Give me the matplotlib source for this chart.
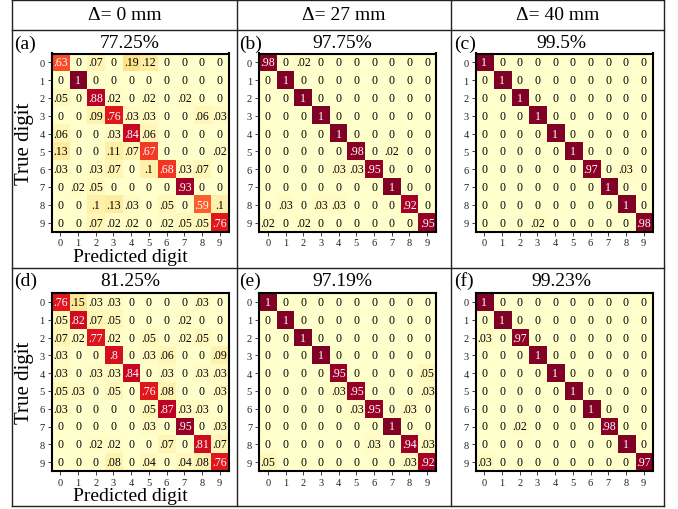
import matplotlib
matplotlib.use("Agg")
import matplotlib.pyplot as plt
import numpy as np
from matplotlib.lines import Line2D

plt.rcParams['font.family'] = ['Liberation Serif', 'DejaVu Serif']

digits = list(range(10))
headers = ["Δ= 0 mm", "Δ= 27 mm", "Δ= 40 mm"]
panel_letters = ["(a)", "(b)", "(c)", "(d)", "(e)", "(f)"]
accuracies = ["77.25%", "97.75%", "99.5%", "81.25%", "97.19%", "99.23%"]

cm_a = [
    [.63, 0, .07, 0, .19, .12, 0, 0, 0, 0],
    [0, 1, 0, 0, 0, 0, 0, 0, 0, 0],
    [.05, 0, .88, .02, 0, .02, 0, .02, 0, 0],
    [0, 0, .09, .76, .03, .03, 0, 0, .06, .03],
    [.06, 0, 0, .03, .84, .06, 0, 0, 0, 0],
    [.13, 0, 0, .11, .07, .67, 0, 0, 0, .02],
    [.03, 0, .03, .07, 0, .1, .68, .03, .07, 0],
    [0, .02, .05, 0, 0, 0, 0, .93, 0, 0],
    [0, 0, .1, .13, .03, 0, .05, 0, .59, .1],
    [0, 0, .07, .02, .02, 0, .02, .05, .05, .76],
]
cm_b = [
    [.98, 0, .02, 0, 0, 0, 0, 0, 0, 0],
    [0, 1, 0, 0, 0, 0, 0, 0, 0, 0],
    [0, 0, 1, 0, 0, 0, 0, 0, 0, 0],
    [0, 0, 0, 1, 0, 0, 0, 0, 0, 0],
    [0, 0, 0, 0, 1, 0, 0, 0, 0, 0],
    [0, 0, 0, 0, 0, .98, 0, .02, 0, 0],
    [0, 0, 0, 0, .03, .03, .95, 0, 0, 0],
    [0, 0, 0, 0, 0, 0, 0, 1, 0, 0],
    [0, .03, 0, .03, .03, 0, 0, 0, .92, 0],
    [.02, 0, .02, 0, 0, 0, 0, 0, 0, .95],
]
cm_c = [
    [1, 0, 0, 0, 0, 0, 0, 0, 0, 0],
    [0, 1, 0, 0, 0, 0, 0, 0, 0, 0],
    [0, 0, 1, 0, 0, 0, 0, 0, 0, 0],
    [0, 0, 0, 1, 0, 0, 0, 0, 0, 0],
    [0, 0, 0, 0, 1, 0, 0, 0, 0, 0],
    [0, 0, 0, 0, 0, 1, 0, 0, 0, 0],
    [0, 0, 0, 0, 0, 0, .97, 0, .03, 0],
    [0, 0, 0, 0, 0, 0, 0, 1, 0, 0],
    [0, 0, 0, 0, 0, 0, 0, 0, 1, 0],
    [0, 0, 0, .02, 0, 0, 0, 0, 0, .98],
]
cm_d = [
    [.76, .15, .03, .03, 0, 0, 0, 0, .03, 0],
    [.05, .82, .07, .05, 0, 0, 0, .02, 0, 0],
    [.07, .02, .77, .02, 0, .05, 0, .02, .05, 0],
    [.03, 0, 0, .8, 0, .03, .06, 0, 0, .09],
    [.03, 0, .03, .03, .84, 0, .03, 0, .03, .03],
    [.05, .03, 0, .05, 0, .76, .08, 0, 0, .03],
    [.03, 0, 0, 0, 0, .05, .87, .03, .03, 0],
    [0, 0, 0, 0, 0, .03, 0, .95, 0, .03],
    [0, 0, .02, .02, 0, 0, .07, 0, .81, .07],
    [0, 0, 0, .08, 0, .04, 0, .04, .08, .76],
]
cm_e = [
    [1, 0, 0, 0, 0, 0, 0, 0, 0, 0],
    [0, 1, 0, 0, 0, 0, 0, 0, 0, 0],
    [0, 0, 1, 0, 0, 0, 0, 0, 0, 0],
    [0, 0, 0, 1, 0, 0, 0, 0, 0, 0],
    [0, 0, 0, 0, .95, 0, 0, 0, 0, .05],
    [0, 0, 0, 0, .03, .95, 0, 0, 0, .03],
    [0, 0, 0, 0, 0, .03, .95, 0, .03, 0],
    [0, 0, 0, 0, 0, 0, 0, 1, 0, 0],
    [0, 0, 0, 0, 0, 0, .03, 0, .94, .03],
    [.05, 0, 0, 0, 0, 0, 0, 0, .03, .92],
]
cm_f = [
    [1, 0, 0, 0, 0, 0, 0, 0, 0, 0],
    [0, 1, 0, 0, 0, 0, 0, 0, 0, 0],
    [.03, 0, .97, 0, 0, 0, 0, 0, 0, 0],
    [0, 0, 0, 1, 0, 0, 0, 0, 0, 0],
    [0, 0, 0, 0, 1, 0, 0, 0, 0, 0],
    [0, 0, 0, 0, 0, 1, 0, 0, 0, 0],
    [0, 0, 0, 0, 0, 0, 1, 0, 0, 0],
    [0, 0, .02, 0, 0, 0, 0, .98, 0, 0],
    [0, 0, 0, 0, 0, 0, 0, 0, 1, 0],
    [.03, 0, 0, 0, 0, 0, 0, 0, 0, .97],
]
matrices = [cm_a, cm_b, cm_c, cm_d, cm_e, cm_f]

W, H = 678, 510
fig = plt.figure(figsize=(W / 100, H / 100), dpi=100)


def fx(x):
    return x / W


def fy(y):
    return 1 - y / H


# table grid
for x in [12, 237, 451, 664]:
    fig.add_artist(Line2D([fx(x), fx(x)], [fy(1), fy(507)], color='#222222', lw=1.0))
for y in [1, 31, 269, 507]:
    fig.add_artist(Line2D([fx(12), fx(664)], [fy(y), fy(y)], color='#222222', lw=1.0))

col_centers = [124.5, 344, 557.5]
for c, h in zip(col_centers, headers):
    fig.text(fx(c), fy(16), h, ha='center', va='center', fontsize=14)

lefts = [51.5, 259, 475.5]
tops = [54.5, 294]
size_w, size_h = 177, 178
title_x = [130, 342, 561]
title_y = [44, 281]
letter_x = [14, 239, 454]


def fmt(v):
    if v == 0:
        return "0"
    if v == 1:
        return "1"
    return f"{v:.2f}".lstrip('0').rstrip('0')


cmap = plt.get_cmap('YlOrRd')
for idx, cm in enumerate(matrices):
    r, c = divmod(idx, 3)
    L = lefts[c]
    T = tops[r]
    ax = fig.add_axes([fx(L), fy(T + size_h), size_w / W, size_h / H])
    data = np.array(cm, dtype=float)
    ax.imshow(data, cmap=cmap, vmin=0, vmax=1, aspect='auto', interpolation='nearest')
    for i in range(10):
        for j in range(10):
            v = data[i, j]
            ax.text(j, i, fmt(v), ha='center', va='center', fontsize=8.5,
                    color='white' if v > 0.5 else 'black')
    ax.set_xticks(digits)
    ax.set_yticks(digits)
    ax.set_xticklabels([str(d) for d in digits])
    ax.set_yticklabels([str(d) for d in digits])
    ax.tick_params(axis='both', labelsize=7.5, length=3, width=0.6, pad=2, colors='#222222')
    for s in ax.spines.values():
        s.set_linewidth(1.5)
        s.set_color('black')
    fig.text(fx(letter_x[c]), fy(title_y[r]), panel_letters[idx], ha='left', va='center', fontsize=14)
    fig.text(fx(title_x[c]), fy(title_y[r]), accuracies[idx], ha='center', va='center', fontsize=14)
    if c == 0:
        fig.text(fx(25), fy(T + size_h / 2), "True digit", rotation=90, ha='center', va='center', fontsize=15)
        fig.text(fx(130), fy(T + size_h + 25), "Predicted digit", ha='center', va='center', fontsize=14)

fig.savefig("out.png", dpi=100)
